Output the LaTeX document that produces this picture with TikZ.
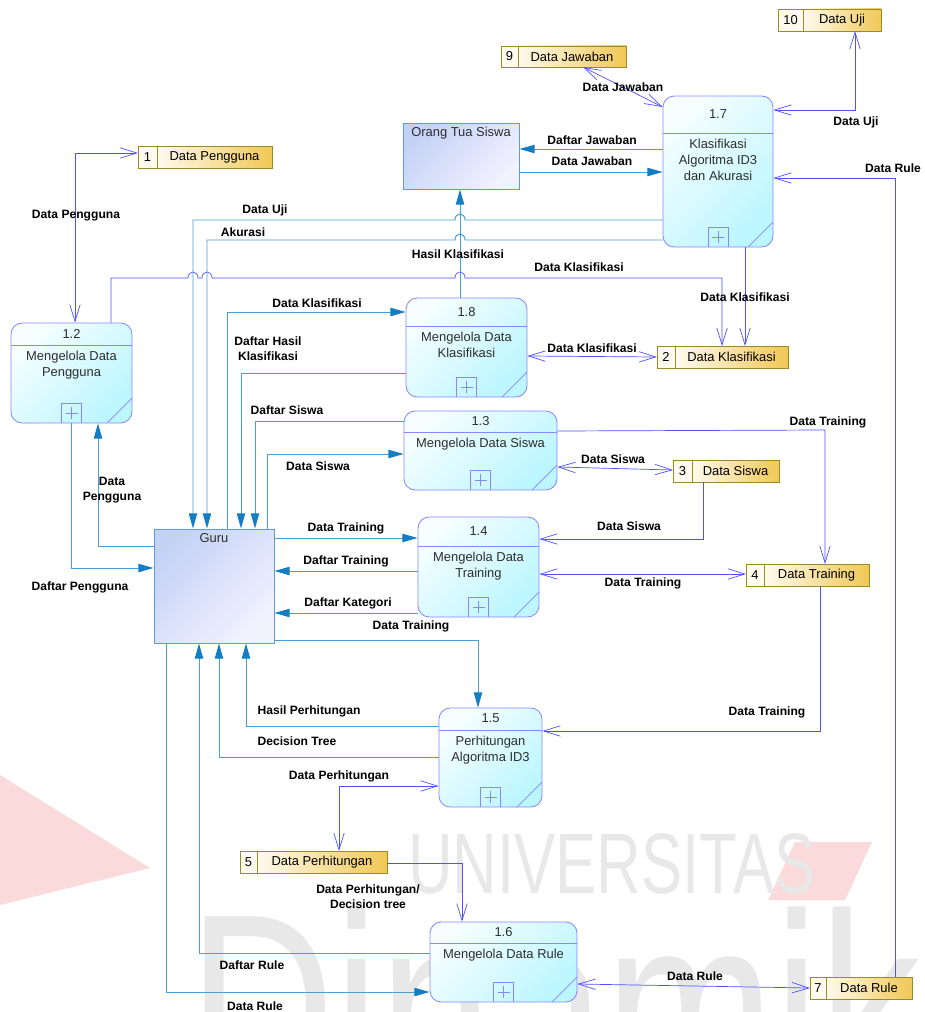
\documentclass[tikz,border=0pt]{standalone}
\usepackage{fontspec}
\setmainfont{Liberation Sans}
\usepackage{tikz}
\usetikzlibrary{positioning,arrows.meta,calc}
\definecolor{procline}{RGB}{135,135,255}
\definecolor{proclight}{RGB}{246,254,255}
\definecolor{proccyan}{RGB}{188,246,255}
\definecolor{proctextc}{RGB}{45,45,45}
\definecolor{entline}{RGB}{95,155,215}
\definecolor{entdark}{RGB}{196,210,246}
\definecolor{entlight}{RGB}{242,242,255}
\definecolor{storeline}{RGB}{150,140,40}
\definecolor{storelight}{RGB}{255,250,238}
\definecolor{storegold}{RGB}{240,200,85}
\definecolor{eflowline}{RGB}{70,160,215}
\definecolor{eflowtip}{RGB}{20,125,195}
\definecolor{sflowline}{RGB}{80,80,255}
\definecolor{wmgray}{RGB}{232,232,232}
\definecolor{wmred}{RGB}{250,218,218}
% proses: nama, x1, y1, x2, y2, tinggi kepala, nomor, teks
\newcommand{\proses}[8]{%
  \node[proc=#6,minimum width={(#4-#2)*0.025cm},minimum height={(#5-#3)*0.025cm}] (#1) at ({(#2+#4)/2},{(#3+#5)/2}) {};
  \node[procid] (#1id) at ($(#1.north)+(0,#6/2)$) {#7};
  \node[proctext] (#1txt) at ($(#1.north)+(0,#6+6)$) {#8};
}
% data store: nama, x1, y1, x2, y2, lebar sel nomor, nomor, teks
\newcommand{\datastore}[8]{%
  \node[storeno,minimum width={#6*0.025cm},minimum height={(#5-#3)*0.025cm},anchor=north west] (n#1) at (#2,#3) {#7};
  \node[storebox,minimum width={(#4-#2-#6)*0.025cm},minimum height={(#5-#3)*0.025cm},right=0pt of n#1] (#1) {#8};
}
\tikzset{
  proc/.style={rectangle,rounded corners=8pt,draw=procline,line width=0.6pt,inner sep=0pt,
    top color=proclight,bottom color=proccyan,shading angle=45,
    path picture={
      \draw[procline,line width=0.5pt,sharp corners] (path picture bounding box.north west) ++(0,#1) -- ++(300,0);
      \draw[procline,line width=0.5pt,sharp corners] (path picture bounding box.south) ++(-10,0) -- ++(0,-20) -- ++(20,0) -- ++(0,20);
      \draw[procline,line width=0.5pt,sharp corners] (path picture bounding box.south) ++(-6,-10) -- ++(12,0);
      \draw[procline,line width=0.5pt,sharp corners] (path picture bounding box.south) ++(0,-16) -- ++(0,12);
      \draw[procline,line width=0.5pt,sharp corners] (path picture bounding box.south east) ++(0,-25) -- ++(-25,25);
    }},
  procid/.style={font=\fontsize{9.2}{11}\selectfont,text=proctextc,inner sep=0pt},
  proctext/.style={font=\fontsize{9.2}{11.3}\selectfont,text=proctextc,align=center,inner sep=0pt,anchor=north},
  entity/.style={rectangle,draw=entline,line width=0.7pt,top color=entdark,bottom color=entlight,shading angle=45,inner sep=0pt},
  enttext/.style={font=\fontsize{9.2}{11}\selectfont,text=proctextc,inner sep=0pt},
  storeno/.style={rectangle,draw=storeline,line width=0.7pt,fill=storelight,inner sep=0pt,outer sep=0pt,font=\fontsize{9.2}{11}\selectfont},
  storebox/.style={rectangle,draw=storeline,line width=0.7pt,left color=storelight,right color=storegold,inner sep=0pt,outer sep=0pt,font=\fontsize{9.2}{11}\selectfont},
  eflow/.style={draw=eflowline,line width=0.7pt,-{Triangle[length=3.8mm,width=2.1mm,color=eflowtip]}},
  sflow/.style={draw=sflowline,line width=0.5pt,-{Straight Barb[length=4.2mm,width=2.6mm]}},
  sflowb/.style={draw=sflowline,line width=0.5pt,{Straight Barb[length=4.2mm,width=2.6mm]}-{Straight Barb[length=4.2mm,width=2.6mm]}},
  lbl/.style={font=\bfseries\fontsize{8.6}{10.5}\selectfont,align=center,inner sep=0pt},
  wmark/.style={text=wmgray,inner sep=0pt}
}
\begin{document}
\begin{tikzpicture}[x=0.025cm,y=-0.025cm]
  \useasboundingbox (0,0) rectangle (925,1012);
  \clip (0,0) rectangle (925,1012);
  % watermark
  \fill[wmred] (0,775) -- (150,868) -- (0,905) -- cycle;
  \fill[wmred] (795,842) -- (872,842) -- (845,900) -- (768,900) -- cycle;
  \node[wmark,font=\fontsize{61}{61}\selectfont,xscale=0.72,anchor=base west] (wmuni) at (408,893) {UNIVERSITAS};
  \node[wmark,font=\fontsize{190}{190}\selectfont,xscale=0.76,anchor=base west] (wmdin) at (188,1100) {Dinamika};

  % proses
  \proses{p17}{663}{96}{773}{247}{37}{1.7}{Klasifikasi\\Algoritma ID3\\dan Akurasi}
  \proses{p18}{406}{298}{527}{397}{28}{1.8}{Mengelola Data\\Klasifikasi}
  \proses{p12}{11}{323}{132}{423}{22}{1.2}{Mengelola Data\\Pengguna}
  \proses{p13}{404}{411}{557}{490}{21}{1.3}{Mengelola Data Siswa}
  \proses{p14}{418}{517}{539}{617}{29}{1.4}{Mengelola Data\\Training}
  \proses{p15}{439}{708}{542}{807}{22}{1.5}{Perhitungan\\Algoritma ID3}
  \proses{p16}{430}{922}{577}{1002}{21}{1.6}{Mengelola Data Rule}

  % entitas
  \node[entity,minimum width={116*0.025cm},minimum height={66*0.025cm}] (ortu) at (461,156) {};
  \node[enttext] (ortutxt) at ($(ortu.north)+(0,11)$) {Orang Tua Siswa};
  \node[entity,minimum width={120*0.025cm},minimum height={114*0.025cm}] (guru) at (214,586) {};
  \node[enttext] (gurutxt) at ($(guru.north)+(0,10)$) {Guru};

  % data store
  \datastore{dpengguna}{138}{146}{272}{168}{19}{1}{Data Pengguna}
  \datastore{djawaban}{501}{46}{626}{67}{17}{9}{Data Jawaban}
  \datastore{duji}{778}{9}{881}{31}{25}{10}{Data Uji}
  \datastore{dklas}{657}{346}{788}{368}{18}{2}{Data Klasifikasi}
  \datastore{dsiswa}{673}{460}{779}{482}{19}{3}{Data Siswa}
  \datastore{dtrain}{746}{564}{869}{586}{18}{4}{Data Training}
  \datastore{dhitung}{240}{851}{387}{873}{17}{5}{Data Perhitungan}
  \datastore{drule}{810}{977}{912}{999}{16}{7}{Data Rule}

  % aliran ke data store
  \draw[sflowb] (p12.north -| 75,0) -- (75,153) -- (ndpengguna.west |- 0,153);
  \draw[sflowb] (djawaban.south -| 583,0) -- (p17.west |- 0,107);
  \draw[sflowb] (duji.south -| 855,0) -- (855,110) -- (p17.east |- 0,110);
  \draw[sflow] (drule.north -| 895,0) -- (895,178) -- (p17.east |- 0,178);
  \draw[sflow] (p17.south -| 745,0) -- (dklas.north -| 745,0);
  \draw[sflow] (p12.north -| 111,0) -- (111,278) -- (188,278) .. controls (188,270) and (198,270) .. (198,278)
    -- (202,278) .. controls (202,270) and (212,270) .. (212,278)
    -- (455,278) .. controls (455,270) and (465,270) .. (465,278) -- (722,278) -- (dklas.north -| 722,0);
  \draw[sflowb] (p18.east |- 0,356) -- (ndklas.west |- 0,357);
  \draw[sflow] (p13.east |- 0,431) -- (825,430) -- (dtrain.north -| 825,0);
  \draw[sflowb] (p13.east |- 0,467) -- (ndsiswa.west |- 0,470);
  \draw[sflow] (dsiswa.south -| 703,0) -- (703,539) -- (p14.east |- 0,539);
  \draw[sflowb] (p14.east |- 0,574) -- (ndtrain.west |- 0,574);
  \draw[sflow] (dtrain.south -| 820,0) -- (820,731) -- (p15.east |- 0,731);
  \draw[sflowb] (p15.west |- 0,786) -- (339,786) -- (dhitung.north -| 339,0);
  \draw[sflow] (dhitung.east |- 0,863) -- (462,863) -- (p16.north -| 462,0);
  \draw[sflowb] (p16.east |- 0,984) -- (ndrule.west |- 0,988);

  % aliran ke entitas
  \draw[eflow] (p17.west |- 0,149) -- (ortu.east |- 0,149);
  \draw[eflow] (ortu.east |- 0,172) -- (p17.west |- 0,172);
  \draw[eflow] (p18.north -| 460,0) -- (ortu.south -| 460,0);
  \draw[eflow] (p17.west |- 0,220) -- (465,220) .. controls (465,212) and (455,212) .. (455,220) -- (193,220) -- (guru.north -| 193,0);
  \draw[eflow] (p17.west |- 0,240) -- (465,240) .. controls (465,232) and (455,232) .. (455,240) -- (207,240) -- (guru.north -| 207,0);
  \draw[eflow] (guru.north -| 227,0) -- (227,312) -- (p18.west |- 0,312);
  \draw[eflow] (p18.west |- 0,373) -- (241,373) -- (guru.north -| 241,0);
  \draw[eflow] (p13.west |- 0,421) -- (255,421) -- (guru.north -| 255,0);
  \draw[eflow] (guru.north -| 267,0) -- (267,454) -- (p13.west |- 0,454);
  \draw[eflow] (guru.west |- 0,546) -- (98,546) -- (p12.south -| 98,0);
  \draw[eflow] (p12.south -| 71,0) -- (71,568) -- (guru.west |- 0,568);
  \draw[eflow] (guru.east |- 0,538) -- (p14.west |- 0,538);
  \draw[eflow] (p14.west |- 0,571) -- (guru.east |- 0,571);
  \draw[eflow] (p14.west |- 0,613) -- (guru.east |- 0,613);
  \draw[eflow] (guru.east |- 0,640) -- (478,640) -- (p15.north -| 478,0);
  \draw[eflow] (p15.west |- 0,726) -- (246,726) -- (guru.south -| 246,0);
  \draw[eflow] (p15.west |- 0,757) -- (219,757) -- (guru.south -| 219,0);
  \draw[eflow] (p16.west |- 0,953) -- (199,953) -- (guru.south -| 199,0);
  \draw[eflow] (guru.south -| 166,0) -- (166,992) -- (p16.west |- 0,992);

  % label aliran
  \node[lbl] (t1) at (76,216) {Data Pengguna};
  \node[lbl] (t2) at (623,87) {Data Jawaban};
  \node[lbl] (t3) at (856,122) {Data Uji};
  \node[lbl] (t4) at (893,168) {Data Rule};
  \node[lbl] (t5) at (745,297) {Data Klasifikasi};
  \node[lbl] (t6) at (579,267) {Data Klasifikasi};
  \node[lbl] (t7) at (592,348) {Data Klasifikasi};
  \node[lbl] (t8) at (828,422) {Data Training};
  \node[lbl] (t9) at (613,459) {Data Siswa};
  \node[lbl] (t10) at (629,526) {Data Siswa};
  \node[lbl] (t11) at (643,583) {Data Training};
  \node[lbl] (t12) at (767,712) {Data Training};
  \node[lbl] (t13) at (339,776) {Data Perhitungan};
  \node[lbl] (t14) at (368,897) {Data Perhitungan/\\Decision tree};
  \node[lbl] (t15) at (695,976) {Data Rule};
  \node[lbl] (t16) at (592,140) {Daftar Jawaban};
  \node[lbl] (t17) at (592,161) {Data Jawaban};
  \node[lbl] (t18) at (458,254) {Hasil Klasifikasi};
  \node[lbl] (t19) at (265,210) {Data Uji};
  \node[lbl] (t20) at (243,232) {Akurasi};
  \node[lbl] (t21) at (317,303) {Data Klasifikasi};
  \node[lbl] (t22) at (268,349) {Daftar Hasil\\Klasifikasi};
  \node[lbl] (t23) at (287,410) {Daftar Siswa};
  \node[lbl] (t24) at (318,466) {Data Siswa};
  \node[lbl] (t25) at (112,490) {Data\\Pengguna};
  \node[lbl] (t26) at (80,587) {Daftar Pengguna};
  \node[lbl] (t27) at (346,528) {Data Training};
  \node[lbl] (t28) at (346,561) {Daftar Training};
  \node[lbl] (t29) at (348,603) {Daftar Kategori};
  \node[lbl] (t30) at (411,626) {Data Training};
  \node[lbl] (t31) at (309,711) {Hasil Perhitungan};
  \node[lbl] (t32) at (297,741) {Decision Tree};
  \node[lbl] (t33) at (252,965) {Daftar Rule};
  \node[lbl] (t34) at (255,1006) {Data Rule};
\end{tikzpicture}
\end{document}
